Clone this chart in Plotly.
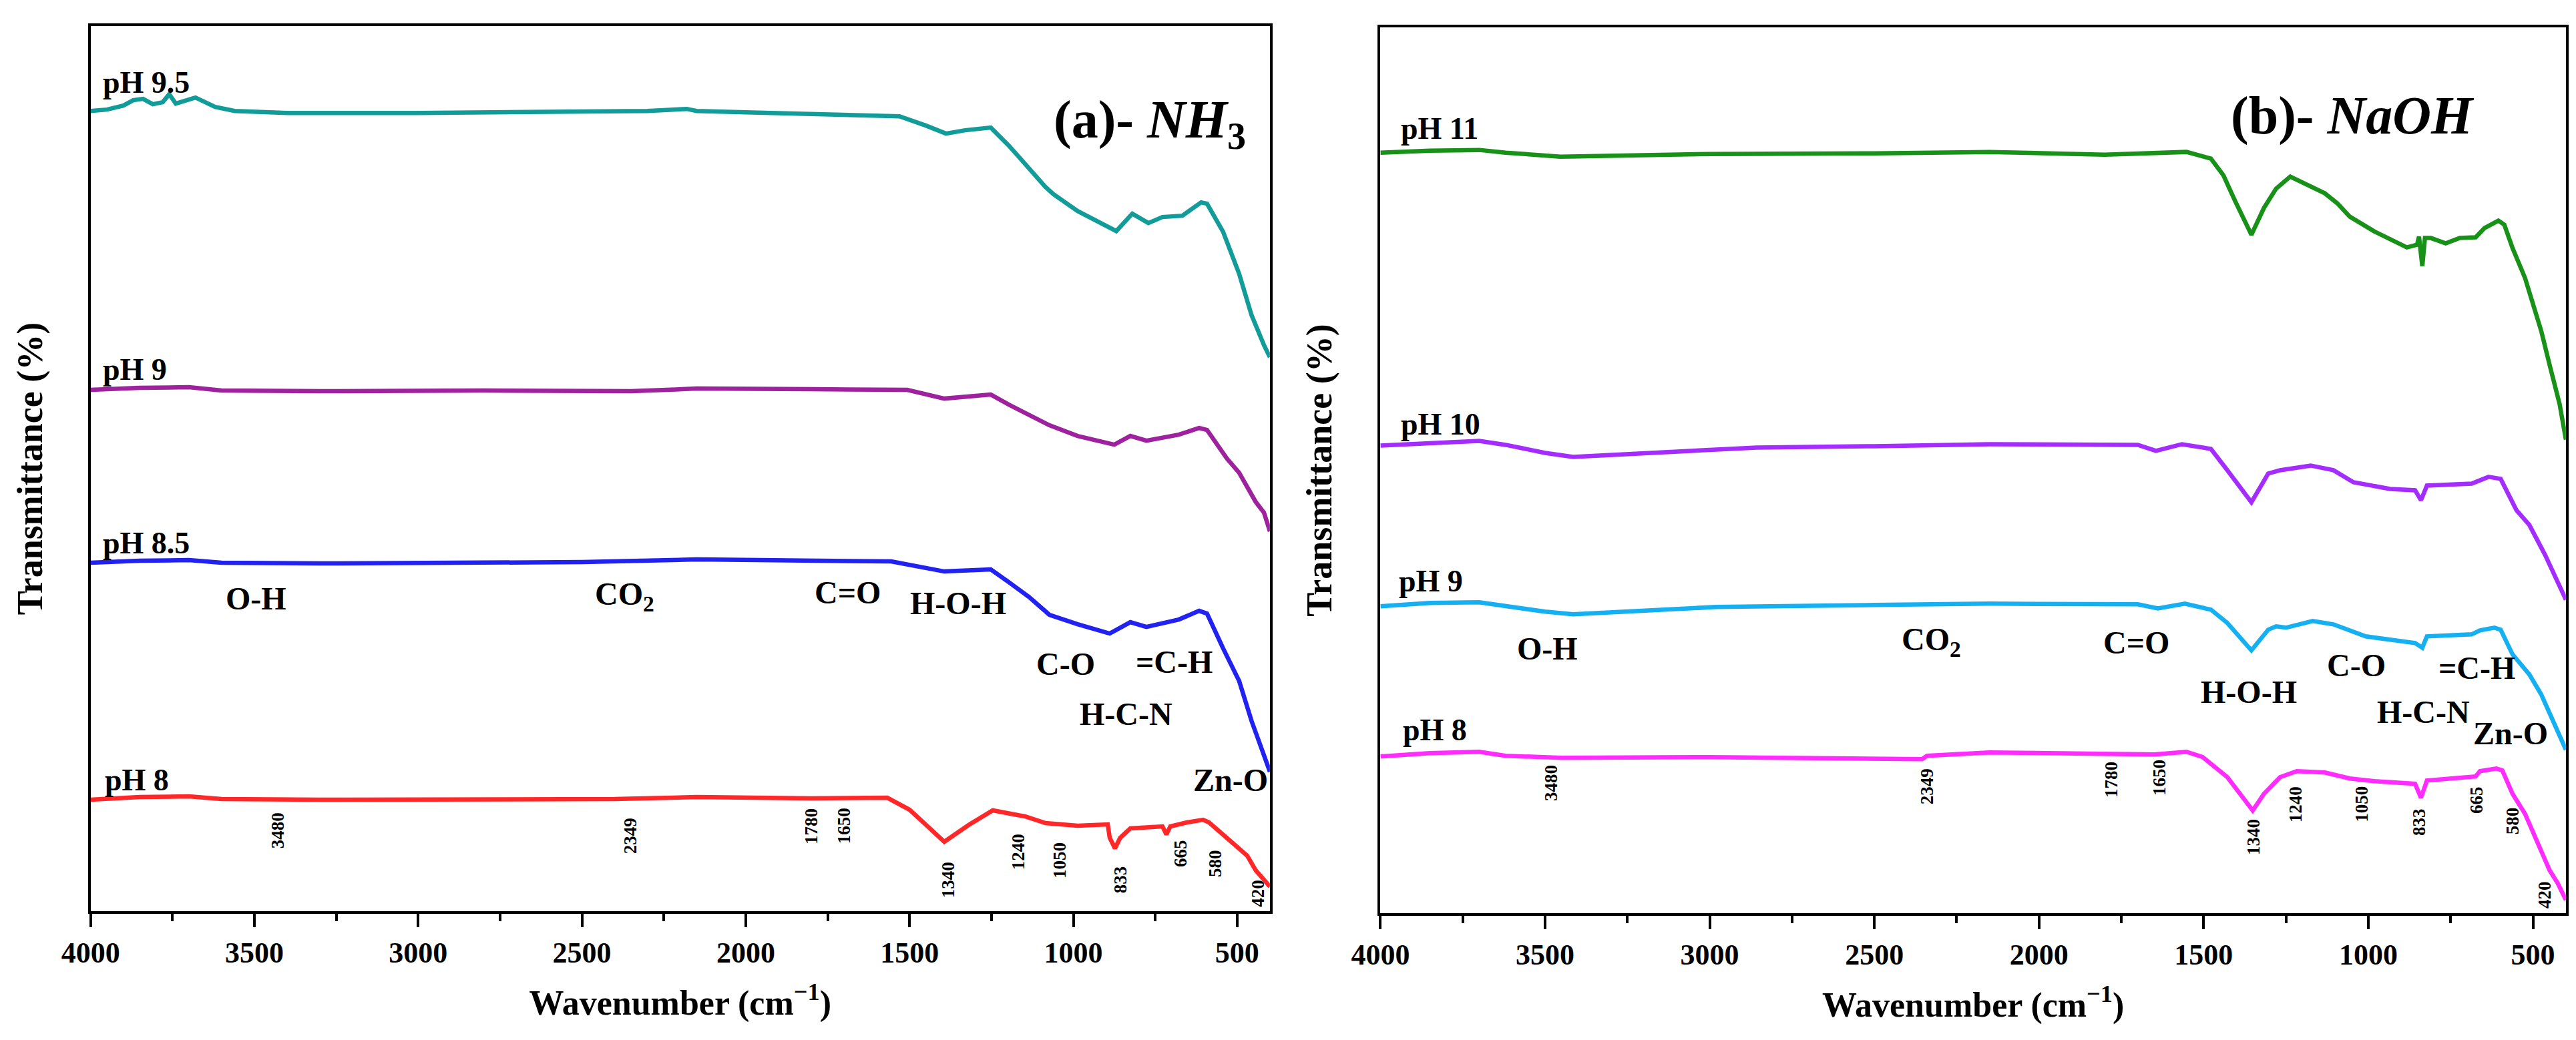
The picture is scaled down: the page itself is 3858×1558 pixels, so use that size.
import plotly.graph_objects as go
from plotly.subplots import make_subplots

# ---------------- panel (a): NH3, stacked transmittance (a.u.) ----------------
nh3_names = ["pH 9.5", "pH 9", "pH 8.5", "pH 8"]
nh3_colors = ["#129c99", "#9e219e", "#2121f2", "#ff2727"]

nh3_95_wn = [4000, 3950, 3900, 3870, 3840, 3810, 3780, 3760, 3740, 3700, 3680, 3650, 3620, 3560,
             3400, 3000, 2600, 2300, 2180, 2150, 2000, 1800, 1531, 1450, 1389, 1330, 1252, 1197,
             1085, 1060, 987, 869, 820, 771, 728, 667, 647, 610, 592, 543, 494, 456, 418, 400]
nh3_95_t = [119.9, 120.1, 120.7, 121.5, 121.7, 120.9, 121.2, 122.4, 121.0, 121.5, 121.9, 121.2,
            120.5, 119.9, 119.6, 119.6, 119.7, 119.9, 120.2, 119.9, 119.7, 119.4, 119.1, 117.7,
            116.5, 117.0, 117.4, 114.7, 108.5, 107.4, 104.9, 101.9, 104.5, 103.1, 104.0, 104.2,
            104.9, 106.2, 106.0, 101.8, 95.5, 89.3, 84.8, 83.0]

nh3_9_wn = [4000, 3850, 3700, 3600, 3300, 2800, 2350, 2150, 1800, 1507, 1394, 1252, 1197, 1073,
            987, 875, 826, 777, 678, 616, 592, 531, 494, 443, 418, 400]
nh3_9_t = [78.1, 78.4, 78.5, 78.0, 77.9, 78.0, 77.9, 78.3, 78.2, 78.1, 76.8, 77.4, 75.9, 72.8,
           71.2, 69.9, 71.2, 70.5, 71.4, 72.4, 72.1, 67.8, 65.7, 61.3, 59.7, 56.9]

nh3_85_wn = [4000, 3850, 3700, 3600, 3300, 2800, 2500, 2150, 1800, 1556, 1394, 1252, 1197, 1136,
             1073, 987, 889, 826, 777, 678, 616, 592, 543, 494, 456, 400]
nh3_85_t = [52.2, 52.5, 52.6, 52.2, 52.1, 52.2, 52.3, 52.7, 52.5, 52.4, 50.9, 51.2, 49.3, 47.1,
            44.4, 43.0, 41.6, 43.3, 42.6, 43.7, 45.0, 44.6, 39.4, 34.5, 28.5, 20.9]

nh3_8_wn = [4000, 3850, 3700, 3600, 3300, 2800, 2400, 2150, 1800, 1568, 1500, 1440, 1394, 1320,
            1246, 1148, 1085, 987, 895, 889, 873, 857, 826, 728, 716, 704, 653, 604, 586, 518,
            469, 443, 400]
nh3_8_t = [16.7, 17.1, 17.2, 16.8, 16.7, 16.7, 16.8, 17.1, 16.9, 17.0, 15.2, 12.5, 10.4, 12.9,
           15.1, 14.2, 13.2, 12.8, 13.0, 11.0, 9.4, 11.0, 12.4, 12.7, 11.5, 12.7, 13.3, 13.7,
           13.3, 10.4, 8.3, 6.1, 3.7]

# ---------------- panel (b): NaOH ----------------
naoh_names = ["pH 11", "pH 10", "pH 9", "pH 8"]
naoh_colors = ["#179117", "#a42cff", "#14b0f2", "#ff2bff"]

naoh_11_wn = [4000, 3850, 3700, 3620, 3453, 3000, 2500, 2150, 1801, 1552, 1478, 1440, 1404, 1355,
              1317, 1280, 1237, 1132, 1094, 1056, 982, 883, 852, 846, 836, 828, 810, 765, 722,
              674, 647, 605, 587, 562, 524, 475, 450, 419, 400]
naoh_11_t = [114.0, 114.3, 114.4, 114.0, 113.4, 113.8, 113.9, 114.1, 113.7, 114.1, 113.1, 110.6,
             106.7, 101.7, 105.7, 108.6, 110.4, 107.9, 106.4, 104.4, 102.2, 99.8, 100.2, 101.4,
             97.0, 101.2, 101.2, 100.4, 101.2, 101.3, 102.7, 103.8, 103.2, 99.7, 95.2, 87.3,
             82.3, 76.3, 71.0]

naoh_10_wn = [4000, 3850, 3700, 3620, 3500, 3415, 3200, 2857, 2500, 2150, 1700, 1645, 1566, 1478,
              1428, 1355, 1304, 1268, 1175, 1106, 1045, 934, 858, 840, 822, 686, 635, 598, 550,
              511, 463, 425, 400]
naoh_10_t = [70.1, 70.5, 70.8, 70.2, 69.0, 68.4, 69.0, 69.8, 70.0, 70.3, 70.2, 69.3, 70.3, 69.6,
             66.4, 61.6, 65.9, 66.4, 67.1, 66.4, 64.6, 63.6, 63.4, 61.9, 64.1, 64.4, 65.4, 65.1,
             60.4, 58.2, 53.7, 49.7, 47.0]

naoh_9_wn = [4000, 3850, 3700, 3620, 3500, 3415, 3200, 2981, 2500, 2150, 1700, 1639, 1557, 1478,
             1428, 1355, 1304, 1280, 1250, 1169, 1106, 1008, 934, 858, 836, 822, 686, 661, 617,
             598, 562, 511, 475, 439, 419, 400]
naoh_9_t = [46.0, 46.5, 46.6, 46.0, 45.2, 44.8, 45.3, 45.9, 46.2, 46.4, 46.3, 45.7, 46.4, 45.5,
            43.5, 39.4, 42.5, 43.0, 42.8, 43.8, 43.3, 41.5, 41.0, 40.5, 39.8, 41.5, 41.8, 42.4,
            42.8, 42.5, 38.8, 35.8, 32.8, 28.9, 26.4, 24.5]

naoh_8_wn = [4000, 3850, 3700, 3620, 3450, 3000, 2355, 2340, 2150, 1780, 1650, 1552, 1503, 1428,
             1391, 1351, 1317, 1268, 1217, 1132, 1056, 982, 858, 840, 822, 734, 674, 661, 611,
             593, 562, 524, 487, 450, 425, 400]
naoh_8_t = [23.5, 24.0, 24.2, 23.6, 23.3, 23.4, 23.1, 23.6, 24.1, 23.8, 23.8, 24.2, 23.4, 20.4,
            17.9, 15.4, 17.9, 20.4, 21.3, 21.1, 20.2, 19.8, 19.4, 17.3, 19.9, 20.2, 20.5, 21.3,
            21.7, 21.4, 17.9, 14.9, 10.5, 6.5, 4.5, 2.0]

# band assignments and peak positions written on the plots
bands = ["O-H", "CO<sub>2</sub>", "C=O", "H-O-H", "C-O", "=C-H", "H-C-N", "Zn-O"]
peaks = ["3480", "2349", "1780", "1650", "1340", "1240", "1050", "833", "665", "580", "420"]

panels = [
    dict(names=nh3_names, colors=nh3_colors,
         wn=[nh3_95_wn, nh3_9_wn, nh3_85_wn, nh3_8_wn],
         t=[nh3_95_t, nh3_9_t, nh3_85_t, nh3_8_t],
         title="(a)- <i>NH</i><sub>3</sub>", title_pos=(469, 118.0),
         name_pos=[(3966, 124.2), (3966, 81.2), (3966, 55.2), (3960, 19.7)],
         band_pos=[(3494, 46.9), (2369, 47.2), (1688, 47.8), (1352, 46.2),
                   (1024, 37.1), (693, 37.4), (840, 29.6), (520, 19.7)],
         peak_pos=[(3428, 12.1), (2352, 11.3), (1800, 12.7), (1700, 12.8), (1382, 4.7),
                   (1168, 8.9), (1042, 7.6), (856, 4.7), (673, 8.7), (567, 7.2), (437, 2.7)],
         ymax=132.6),
    dict(names=naoh_names, colors=naoh_colors,
         wn=[naoh_11_wn, naoh_10_wn, naoh_9_wn, naoh_8_wn],
         t=[naoh_11_t, naoh_10_t, naoh_9_t, naoh_8_t],
         title="(b)- <i>NaOH</i>", title_pos=(673, 119.5),
         name_pos=[(3942, 117.6), (3942, 73.3), (3948, 49.8), (3936, 27.5)],
         band_pos=[(3492, 39.7), (2326, 40.7), (1704, 40.6), (1363, 33.2),
                   (1037, 37.2), (670, 36.8), (832, 30.2), (569, 27.0)],
         peak_pos=[(3482, 19.5), (2340, 19.0), (1781, 20.0), (1635, 20.3), (1349, 11.4),
                   (1221, 16.3), (1019, 16.3), (846, 13.7), (670, 17.0), (562, 13.9), (465, 2.8)],
         ymax=132.8),
]

SERIF = "Liberation Serif"

fig = make_subplots(rows=1, cols=2)

for col, panel in enumerate(panels, start=1):
    for name, color, wn, t in zip(panel["names"], panel["colors"], panel["wn"], panel["t"]):
        fig.add_trace(
            go.Scatter(x=wn, y=t, mode="lines", name=name,
                       line=dict(color=color, width=6.5), showlegend=False),
            row=1, col=col,
        )

    xref = "x" if col == 1 else "x2"
    yref = "y" if col == 1 else "y2"

    for name, (x, y) in zip(panel["names"], panel["name_pos"]):
        fig.add_annotation(x=x, y=y, xref=xref, yref=yref, text=name, showarrow=False,
                           xanchor="left", yanchor="middle",
                           font=dict(family=SERIF, size=46, color="black", weight="bold"))

    for text, (x, y) in zip(bands, panel["band_pos"]):
        fig.add_annotation(x=x, y=y, xref=xref, yref=yref, text=text, showarrow=False,
                           font=dict(family=SERIF, size=48, color="black", weight="bold"))

    for text, (x, y) in zip(peaks, panel["peak_pos"]):
        fig.add_annotation(x=x, y=y, xref=xref, yref=yref, text=text, showarrow=False,
                           textangle=-90,
                           font=dict(family=SERIF, size=27, color="black", weight="bold"))

    # panel caption, bold with the reagent in italics
    fig.add_annotation(x=panel["title_pos"][0], y=panel["title_pos"][1], xref=xref, yref=yref,
                       text=panel["title"], showarrow=False, xanchor="right",
                       font=dict(family=SERIF, size=80, color="black", weight="bold"))

    fig.update_xaxes(
        range=[4000, 400], dtick=500, tick0=0,
        ticks="outside", ticklen=20, tickwidth=4, tickcolor="black",
        minor=dict(dtick=250, tick0=0, ticks="outside", ticklen=11, tickwidth=4, tickcolor="black"),
        showline=True, linewidth=4, linecolor="black", mirror=True,
        showgrid=False, zeroline=False, automargin=False,
        tickfont=dict(family=SERIF, size=44, color="black", weight="bold"),
        title=dict(text="Wavenumber (cm<sup>\u22121</sup>)", standoff=34,
                   font=dict(family=SERIF, size=52, color="black", weight="bold")),
        row=1, col=col,
    )
    fig.update_yaxes(
        range=[0, panel["ymax"]], showticklabels=False, ticks="",
        showline=True, linewidth=4, linecolor="black", mirror=True,
        showgrid=False, zeroline=False, automargin=False,
        title=dict(text="Transmittance (%)", standoff=52,
                   font=dict(family=SERIF, size=54, color="black", weight="bold")),
        row=1, col=col,
    )

fig.update_layout(
    width=3858, height=1558,
    margin=dict(l=0, r=0, t=0, b=0),
    paper_bgcolor="white", plot_bgcolor="white",
    showlegend=False,
    xaxis=dict(domain=[0.0331, 0.4909]),
    xaxis2=dict(domain=[0.5338, 0.9940]),
    yaxis=dict(domain=[0.129, 0.980]),
    yaxis2=dict(domain=[0.127, 0.979]),
)

fig.write_html("out.html")
